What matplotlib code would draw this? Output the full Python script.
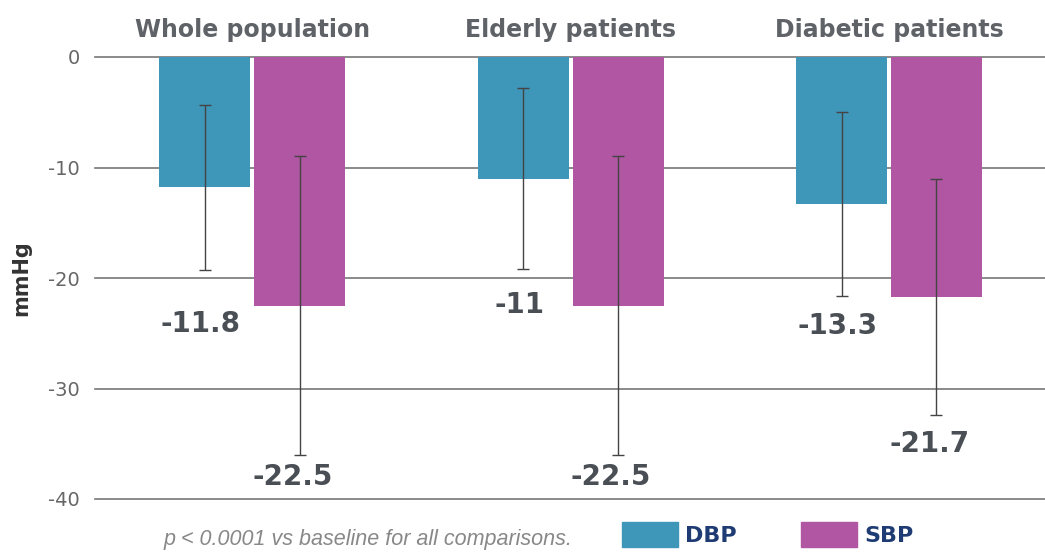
import numpy as np
import matplotlib.pyplot as plt
import matplotlib.transforms as mtransforms
from matplotlib.patches import Patch

# dados
grupos = ['Whole population', 'Elderly patients', 'Diabetic patients']
dbp = [-11.8, -11.0, -13.3]
sbp = [-22.5, -22.5, -21.7]
dbp_err = [7.5, 8.2, 8.3]
sbp_err = [13.5, 13.5, 10.7]
y_ticks = [0, -10, -20, -30, -40]

cor_dbp = '#3e96b8'
cor_sbp = '#b056a2'
cinza = '#4a4f55'

fig = plt.figure(figsize=(10.45, 5.52), dpi=100)
ax = fig.add_axes([95 / 1045, 1 - 499 / 552, 1 - 95 / 1045, (499 - 57) / 552])

x = np.arange(len(grupos))
larg = 0.286
desl = 0.149

ax.bar(x - desl, dbp, larg, color=cor_dbp, zorder=2)
ax.bar(x + desl, sbp, larg, color=cor_sbp, zorder=2)
ax.errorbar(x - desl, dbp, yerr=dbp_err, fmt='none', ecolor='#444444',
            elinewidth=1, capsize=4, capthick=1, zorder=3)
ax.errorbar(x + desl, sbp, yerr=sbp_err, fmt='none', ecolor='#444444',
            elinewidth=1, capsize=4, capthick=1, zorder=3)

# rótulos dos valores (abaixo da barra de erro)
dy_dbp = [-39, -26, -22]
dy_sbp = [-16, -16, -21]
for xi, v, e, dy in zip(x - desl, dbp, dbp_err, dy_dbp):
    ax.annotate(f'{v:g}', (xi, v - e), xytext=(-3, dy), textcoords='offset points',
                ha='center', va='center', fontsize=20, fontweight='bold',
                color=cinza, family='DejaVu Sans')
for xi, v, e, dy in zip(x + desl, sbp, sbp_err, dy_sbp):
    ax.annotate(f'{v:g}', (xi, v - e), xytext=(-5, dy), textcoords='offset points',
                ha='center', va='center', fontsize=20, fontweight='bold',
                color=cinza, family='DejaVu Sans')

# títulos dos grupos
desloc_titulo = mtransforms.offset_copy(ax.get_xaxis_transform(), fig=fig, y=11, units='points')
for xi, g in zip(x, grupos):
    ax.text(xi, 1.0, g, transform=desloc_titulo, ha='center',
            va='bottom', fontsize=17, fontweight='bold', color='#5f6368',
            family='DejaVu Sans')

ax.set_xlim(-0.494, 2.49)
ax.set_ylim(-40, 0)
ax.set_yticks(y_ticks)
ax.set_yticklabels([str(t) for t in y_ticks], fontsize=14, color='#666666')
ax.tick_params(axis='y', length=0, pad=11)
ax.set_xticks([])
for s in ax.spines.values():
    s.set_visible(False)
for t in y_ticks:
    ax.axhline(t, color='#777777', lw=1.2, zorder=1, clip_on=False)
ax.set_ylabel('mmHg', fontsize=15, fontweight='bold', color='#333333', labelpad=12)

fig.text(368 / 1045, 1 - 540 / 552, 'p < 0.0001 vs baseline for all comparisons.',
         ha='center', va='center', fontsize=15.5, style='italic', color='#888888',
         family=['Liberation Sans Narrow', 'Liberation Sans', 'DejaVu Sans'])

handles = [Patch(color=cor_dbp, label='DBP'), Patch(color=cor_sbp, label='SBP')]
leg = fig.legend(handles=handles, loc='upper left', bbox_to_anchor=(622 / 1045, 1 - 522 / 552),
                 ncol=2, frameon=False, fontsize=16, handlelength=2.5, handleheight=1.35,
                 handletextpad=0.35, columnspacing=2.9, borderpad=0, borderaxespad=0)
for t in leg.get_texts():
    t.set_color('#1f3b73')
    t.set_fontweight('bold')

fig.savefig('out.png', dpi=100)
